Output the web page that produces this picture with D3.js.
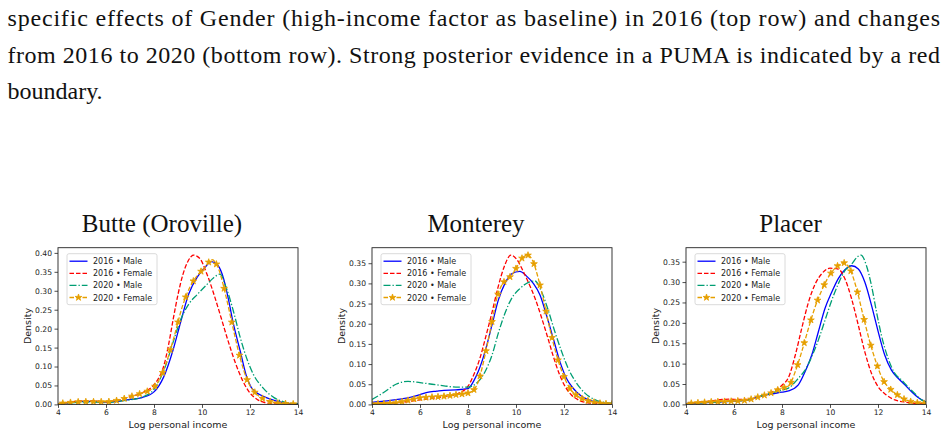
<!DOCTYPE html>
<html><head><meta charset="utf-8">
<script src="https://cdn.jsdelivr.net/npm/d3@7"></script>
<style>body{margin:0;background:#fff} svg{display:block}</style>
</head><body><svg id="c" width="947" height="436"></svg>
<script>
// ---------------- DATA ----------------
const captionLines = [
  "specific effects of Gender (high-income factor as baseline) in 2016 (top row) and changes",
  "from 2016 to 2020 (bottom row). Strong posterior evidence in a PUMA is indicated by a red",
  "boundary."
];
const panelTitles = ["Butte (Oroville)", "Monterey", "Placer"];
const seriesNames = ["2016 • Male", "2016 • Female", "2020 • Male", "2020 • Female"];
const xTicks = [4, 6, 8, 10, 12, 14];
const yTicksButte = [0, 0.05, 0.10, 0.15, 0.20, 0.25, 0.30, 0.35, 0.40];
const yTicksMonterey = [0, 0.05, 0.10, 0.15, 0.20, 0.25, 0.30, 0.35];
const yTicksPlacer = [0, 0.05, 0.10, 0.15, 0.20, 0.25, 0.30, 0.35];
const xLabel = "Log personal income";
const yLabel = "Density";

// Butte (Oroville): [log income, density]
const butteMale2016 = [[4,0.002],[4.5,0.005],[5,0.008],[5.5,0.008],[6,0.006],[6.5,0.008],[7,0.013],[7.5,0.018],[8,0.033],[8.4,0.072],[8.8,0.145],[9.1,0.215],[9.45,0.292],[9.8,0.336],[10.1,0.36],[10.4,0.377],[10.65,0.368],[10.9,0.332],[11.1,0.278],[11.3,0.215],[11.6,0.139],[11.85,0.075],[12.05,0.045],[12.4,0.026],[12.85,0.014],[13.3,0.006],[13.7,0.002],[14,0.001]];
const butteFemale2016 = [[4,0.002],[4.5,0.006],[5,0.009],[5.5,0.009],[6,0.007],[6.5,0.011],[7,0.02],[7.5,0.03],[8,0.052],[8.2,0.07],[8.4,0.1],[8.6,0.155],[8.8,0.225],[9.0,0.29],[9.2,0.342],[9.4,0.376],[9.65,0.394],[9.9,0.386],[10.2,0.345],[10.5,0.29],[10.8,0.228],[11.1,0.165],[11.4,0.108],[11.7,0.062],[12.0,0.03],[12.3,0.013],[12.6,0.005],[13,0.002],[14,0]];
const butteMale2020 = [[4,0.002],[4.5,0.004],[5,0.006],[5.5,0.006],[6,0.005],[6.5,0.008],[7,0.012],[7.5,0.019],[8,0.04],[8.4,0.088],[8.8,0.165],[9.1,0.222],[9.45,0.265],[9.8,0.29],[10.15,0.313],[10.5,0.335],[10.75,0.344],[11.0,0.31],[11.3,0.248],[11.6,0.175],[11.9,0.115],[12.15,0.078],[12.55,0.043],[13.0,0.018],[13.4,0.007],[14,0.001]];
const butteFemale2020 = [[4,0.002],[4.5,0.005],[5,0.007],[5.5,0.007],[6,0.007],[6.5,0.011],[7,0.02],[7.5,0.03],[8,0.045],[8.4,0.09],[8.8,0.17],[9.2,0.262],[9.5,0.31],[9.8,0.34],[10.1,0.36],[10.42,0.382],[10.7,0.356],[11.0,0.285],[11.3,0.2],[11.6,0.12],[11.9,0.062],[12.2,0.032],[12.6,0.013],[13,0.005],[13.5,0.002],[14,0.001]];

// Monterey
const montereyMale2016 = [[4,0.005],[4.5,0.008],[5,0.012],[5.5,0.016],[6,0.024],[6.3,0.03],[6.7,0.033],[7,0.035],[7.5,0.036],[8,0.039],[8.23,0.057],[8.43,0.082],[8.71,0.131],[9.0,0.197],[9.26,0.258],[9.54,0.3],[9.82,0.324],[10.16,0.33],[10.44,0.318],[10.72,0.3],[11.0,0.271],[11.27,0.221],[11.55,0.164],[11.83,0.106],[12.1,0.065],[12.38,0.04],[12.73,0.02],[13.14,0.009],[13.6,0.004],[14,0.002]];
const montereyFemale2016 = [[4,0.002],[4.5,0.003],[5,0.004],[5.5,0.007],[6,0.011],[6.5,0.015],[7,0.019],[7.5,0.025],[8,0.045],[8.25,0.075],[8.5,0.115],[8.75,0.17],[9,0.228],[9.25,0.29],[9.5,0.34],[9.79,0.37],[10.05,0.358],[10.3,0.33],[10.55,0.298],[10.8,0.262],[11.05,0.218],[11.3,0.17],[11.55,0.12],[11.8,0.076],[12.05,0.044],[12.3,0.024],[12.6,0.011],[13,0.004],[13.5,0.001],[14,0]];
const montereyMale2020 = [[4,0.012],[4.5,0.03],[5,0.05],[5.5,0.057],[6,0.054],[6.5,0.05],[7,0.046],[7.5,0.043],[8,0.043],[8.4,0.055],[8.71,0.081],[9.0,0.122],[9.26,0.176],[9.54,0.226],[9.82,0.263],[10.16,0.287],[10.5,0.302],[10.79,0.306],[11.06,0.28],[11.34,0.234],[11.62,0.18],[11.9,0.131],[12.17,0.09],[12.52,0.053],[12.87,0.028],[13.28,0.012],[13.7,0.005],[14,0.003]];
const montereyFemale2020 = [[4,0.001],[4.5,0.002],[5,0.004],[5.5,0.01],[6,0.016],[6.5,0.018],[7,0.02],[7.5,0.024],[8,0.028],[8.23,0.035],[8.43,0.057],[8.71,0.122],[9.0,0.205],[9.2,0.263],[9.4,0.295],[9.61,0.31],[9.82,0.32],[10.03,0.34],[10.23,0.361],[10.48,0.37],[10.72,0.353],[10.93,0.312],[11.13,0.263],[11.41,0.188],[11.69,0.122],[11.97,0.073],[12.24,0.04],[12.59,0.02],[13.0,0.009],[13.5,0.003],[14,0.001]];

// Placer
const placerMale2016 = [[4,0.002],[4.5,0.004],[5,0.005],[5.5,0.006],[6,0.008],[6.5,0.01],[7,0.018],[7.5,0.025],[8,0.03],[8.27,0.033],[8.68,0.048],[8.96,0.08],[9.24,0.121],[9.51,0.177],[9.79,0.235],[10.07,0.275],[10.34,0.308],[10.62,0.33],[10.9,0.34],[11.18,0.332],[11.45,0.3],[11.73,0.243],[12.01,0.178],[12.28,0.121],[12.56,0.084],[12.84,0.064],[13.12,0.048],[13.4,0.031],[13.67,0.017],[14,0.006]];
const placerFemale2016 = [[4,0.002],[4.5,0.005],[5,0.008],[5.5,0.012],[5.8,0.013],[6.2,0.012],[6.6,0.012],[7,0.018],[7.5,0.028],[8,0.047],[8.27,0.066],[8.55,0.12],[8.82,0.186],[9.1,0.25],[9.38,0.295],[9.65,0.32],[10.0,0.334],[10.34,0.332],[10.62,0.308],[10.9,0.259],[11.18,0.194],[11.45,0.129],[11.73,0.076],[12.01,0.043],[12.35,0.023],[12.7,0.011],[13.2,0.005],[14,0.001]];
const placerMale2020 = [[4,0.002],[4.5,0.004],[5,0.005],[5.5,0.006],[6,0.008],[6.5,0.01],[7,0.018],[7.5,0.027],[8,0.035],[8.27,0.04],[8.68,0.064],[8.96,0.084],[9.24,0.117],[9.51,0.157],[9.79,0.206],[10.07,0.255],[10.34,0.295],[10.62,0.328],[10.9,0.344],[11.11,0.36],[11.29,0.366],[11.52,0.34],[11.73,0.291],[11.94,0.226],[12.14,0.17],[12.42,0.113],[12.7,0.076],[12.98,0.06],[13.25,0.043],[13.53,0.027],[13.81,0.011],[14,0.006]];
const placerFemale2020 = [[4,0.002],[4.5,0.004],[5,0.006],[5.5,0.007],[6,0.008],[6.5,0.01],[7,0.018],[7.5,0.027],[8,0.04],[8.27,0.045],[8.55,0.08],[8.82,0.129],[9.1,0.186],[9.38,0.239],[9.65,0.279],[9.93,0.312],[10.21,0.334],[10.59,0.347],[10.83,0.332],[11.11,0.283],[11.38,0.218],[11.66,0.153],[11.94,0.1],[12.21,0.06],[12.49,0.039],[12.84,0.022],[13.25,0.009],[14,0.002]];

// marker placement along the 2020 Female curve (x start, x step)
const markerStart = [4.2, 4.0, 4.22];
const markerStep = [0.32, 0.25, 0.277];

// ---------------- STYLE / LAYOUT ----------------
const panels = [
  {title: panelTitles[0], series: [butteMale2016, butteFemale2016, butteMale2020, butteFemale2020], yTicks: yTicksButte, left: 58, titleX: 162},
  {title: panelTitles[1], series: [montereyMale2016, montereyFemale2016, montereyMale2020, montereyFemale2020], yTicks: yTicksMonterey, left: 372, titleX: 476},
  {title: panelTitles[2], series: [placerMale2016, placerFemale2016, placerMale2020, placerFemale2020], yTicks: yTicksPlacer, left: 686, titleX: 790.5}
];
const styles = [
  {color: "#0000ff", dash: null},
  {color: "#ff0000", dash: "4.5,2"},
  {color: "#009e73", dash: "7,2,1.3,2"},
  {color: "#e69f00", dash: "4.5,2", marker: true}
];
const W = 240, axTop = 247.7, axBot = 404.4;
const tickFont = "DejaVu Sans";

const svg = d3.select("#c");
svg.append("rect").attr("width", 947).attr("height", 436).attr("fill", "#fff");

// Caption
const cap = svg.append("g").attr("font-family", "'Liberation Serif', 'Times New Roman', serif").attr("font-size", 24).attr("fill", "#111");
const capY = [26, 63, 99];
captionLines.forEach((t, i) => {
  const tx = cap.append("text").attr("x", 7.5).attr("y", capY[i]).text(t);
  if (i < 2) tx.attr("textLength", 932.5).attr("lengthAdjust", "spacing");
});

const star = d3.symbol().type(d3.symbolStar).size(14);

panels.forEach((p, pi) => {
  const x = d3.scaleLinear().domain([4, 14]).range([p.left, p.left + W]);
  const ymax = d3.max(p.series, s => d3.max(s, d => d[1])) * 1.05;
  const y = d3.scaleLinear().domain([0, ymax]).range([axBot, axTop]);
  const g = svg.append("g");

  g.append("text").attr("x", p.titleX).attr("y", 232).attr("text-anchor", "middle")
    .attr("font-family", "'Liberation Serif', 'Times New Roman', serif").attr("font-size", 25).attr("fill", "#111")
    .text(p.title);

  const line = d3.line().x(d => x(d[0])).y(d => y(d[1])).curve(d3.curveMonotoneX);
  const clipId = "clip" + pi;
  g.append("clipPath").attr("id", clipId).append("rect")
    .attr("x", p.left).attr("y", axTop).attr("width", W).attr("height", axBot - axTop);
  const lg = g.append("g").attr("clip-path", `url(#${clipId})`);
  p.series.forEach((s, si) => {
    const st = styles[si];
    const path = lg.append("path").datum(s).attr("d", line)
      .attr("fill", "none").attr("stroke", st.color).attr("stroke-width", 1.3)
      .attr("stroke-dasharray", st.dash);
    if (st.marker) {
      const node = path.node();
      const L = node.getTotalLength();
      const pts = [];
      for (let xv = markerStart[pi]; xv <= 14.001; xv += markerStep[pi]) {
        const tx = x(xv);
        let lo = 0, hi = L;
        for (let k = 0; k < 40; k++) {
          const mid = (lo + hi) / 2;
          if (node.getPointAtLength(mid).x < tx) lo = mid; else hi = mid;
        }
        const pt = node.getPointAtLength((lo + hi) / 2);
        pts.push([pt.x, pt.y]);
      }
      lg.selectAll(null).data(pts).enter().append("path")
        .attr("d", star).attr("transform", d => `translate(${d[0]},${d[1]})`)
        .attr("fill", st.color).attr("stroke", st.color).attr("stroke-width", 0.8);
    }
  });

  const xa = g.append("g").attr("transform", `translate(0,${axBot})`)
    .call(d3.axisBottom(x).tickValues(xTicks).tickSize(3.5).tickPadding(2).tickFormat(d3.format("d")));
  const ya = g.append("g").attr("transform", `translate(${p.left},0)`)
    .call(d3.axisLeft(y).tickValues(p.yTicks).tickSize(3.5).tickPadding(2.5).tickFormat(d3.format(".2f")));
  [xa, ya].forEach(a => {
    a.select(".domain").remove();
    a.selectAll("line").attr("stroke", "#222").attr("stroke-width", 0.8);
    a.selectAll("text").attr("font-family", tickFont).attr("font-size", 7.6).attr("fill", "#222");
  });

  g.append("rect").attr("x", p.left).attr("y", axTop).attr("width", W).attr("height", axBot - axTop)
    .attr("fill", "none").attr("stroke", "#222").attr("stroke-width", 0.9);

  g.append("text").attr("x", p.left + W / 2).attr("y", 427.5).attr("text-anchor", "middle")
    .attr("font-family", tickFont).attr("font-size", 9.5).attr("fill", "#222").text(xLabel);
  g.append("text").attr("transform", `translate(${p.left - 27},${(axTop + axBot) / 2}) rotate(-90)`)
    .attr("text-anchor", "middle").attr("font-family", tickFont).attr("font-size", 9.5).attr("fill", "#222").text(yLabel);

  const lx = p.left + 9, ly = axTop + 6;
  const leg = g.append("g");
  leg.append("rect").attr("x", lx).attr("y", ly).attr("width", 90).attr("height", 51).attr("rx", 2)
    .attr("fill", "#fff").attr("fill-opacity", 0.8).attr("stroke", "#d0d0d0").attr("stroke-width", 0.8);
  seriesNames.forEach((name, si) => {
    const st = styles[si];
    const cy = ly + 7.5 + si * 12.1;
    leg.append("line").attr("x1", lx + 2.5).attr("x2", lx + 20.5).attr("y1", cy).attr("y2", cy)
      .attr("stroke", st.color).attr("stroke-width", 1.3).attr("stroke-dasharray", st.dash);
    if (st.marker) {
      leg.append("path").attr("d", star).attr("transform", `translate(${lx + 11.5},${cy})`)
        .attr("fill", st.color).attr("stroke", st.color).attr("stroke-width", 0.8);
    }
    leg.append("text").attr("x", lx + 26).attr("y", cy + 3).attr("font-family", tickFont)
      .attr("font-size", 8).attr("fill", "#222").text(name);
  });
});
</script>
</body></html>
